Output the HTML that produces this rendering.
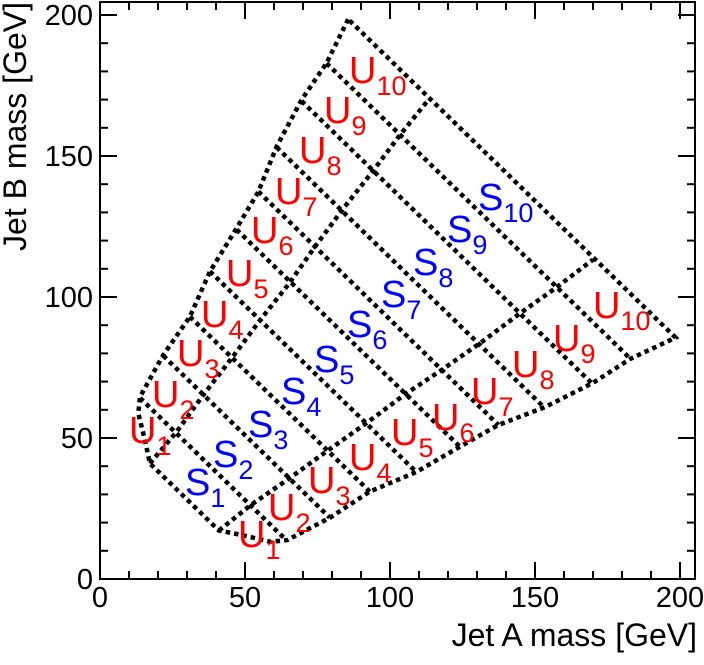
<!DOCTYPE html>
<html><head><meta charset="utf-8"><style>
html,body{margin:0;padding:0;background:#fff;}
svg{display:block;font-family:"Liberation Sans",Arial,sans-serif;}
</style></head><body>
<svg id="chart" width="704" height="665" viewBox="0 0 704 665" xmlns="http://www.w3.org/2000/svg">
<g id="ticks"></g>
<g id="grid" fill="none" stroke="#000" stroke-width="4.5" stroke-dasharray="4.5 4"></g>
<rect x="100" y="2" width="595" height="577" fill="none" stroke="#000" stroke-width="2"/>
<g id="xlabels" font-size="29" text-anchor="middle"></g>
<g id="ylabels" font-size="29" text-anchor="end"></g>
<text x="697" y="646" font-size="32" text-anchor="end">Jet A mass [GeV]</text>
<text transform="translate(26,2) rotate(-90)" font-size="32" text-anchor="end">Jet B mass [GeV]</text>
<g id="labels" font-size="38"></g>
</svg>
<script>
// region boundary data (GeV)
const sumEdges = [58, 78, 101, 124, 147, 171, 192, 214, 239, 261, 285];
const outerUpperX = [13.8, 21.8, 31, 37.9, 47.1, 54.6, 60.9, 69.5, 78.1, 85.6];
const outerUpperY = [64.6, 79.4, 93, 109, 124.4, 137.3, 153.3, 169.9, 182.9, 198.5];
const innerUpperX = [17.2, 26.4, 35.6, 45.4, 55.2, 65.3, 74.1, 83.9, 94.2, 103.4, 113.2];
const innerUpperY = [41, 52.2, 65.2, 78.3, 91.8, 104.9, 117.8, 131.4, 144.8, 157.4, 169.9];
const cornerCurveX = [13.2, 15.5];
const cornerCurveY = [58.8, 49.3];
const xTicks = [0, 50, 100, 150, 200];
const yTicks = [0, 50, 100, 150, 200];

const NS = "http://www.w3.org/2000/svg";
const X0 = 100, XS = 2.9, Y0 = 579, YS = 2.82;
const sx = v => X0 + v * XS;
const sy = v => Y0 - v * YS;

function mk(tag, attrs, parent) {
  const e = document.createElementNS(NS, tag);
  for (const k in attrs) e.setAttribute(k, attrs[k]);
  parent.appendChild(e);
  return e;
}
function pathFrom(xs, ys) {
  return xs.map((x, i) => (i ? "L" : "M") + sx(x).toFixed(1) + " " + sy(ys[i]).toFixed(1)).join(" ");
}

const grid = document.getElementById("grid");
const bx = [], by = [];
for (let i = outerUpperX.length - 1; i >= 0; i--) { bx.push(outerUpperX[i]); by.push(outerUpperY[i]); }
cornerCurveX.forEach((x, i) => { bx.push(x); by.push(cornerCurveY[i]); });
bx.push(innerUpperX[0]); by.push(innerUpperY[0]);
bx.push(innerUpperY[0]); by.push(innerUpperX[0]);
for (let i = cornerCurveX.length - 1; i >= 0; i--) { bx.push(cornerCurveY[i]); by.push(cornerCurveX[i]); }
for (let i = 0; i < outerUpperX.length; i++) { bx.push(outerUpperY[i]); by.push(outerUpperX[i]); }
bx.push(outerUpperX[outerUpperX.length - 1]); by.push(outerUpperY[outerUpperY.length - 1]);
const outer = mk("path", { d: pathFrom(bx, by) }, grid);



const iu = mk("path", { d: pathFrom(innerUpperX, innerUpperY) }, grid);


const il = mk("path", { d: pathFrom(innerUpperY, innerUpperX) }, grid);



for (let k = 1; k < sumEdges.length - 1; k++) {
  const s = sumEdges[k];
  const ux = outerUpperX[k - 1], uy = s - ux;
  const ln = mk("line", { x1: sx(ux), y1: sy(uy), x2: sx(uy), y2: sy(ux) }, grid);
  
  
}

const tg = document.getElementById("ticks");
for (let v = 0; v <= 200; v += 10) {
  const major = v % 50 === 0, L = major ? 17 : 8;
  const x = sx(v);
  mk("line", { x1: x, y1: 579, x2: x, y2: 579 - L, stroke: "#000", "stroke-width": 2 }, tg);
  mk("line", { x1: x, y1: 2, x2: x, y2: 2 + L, stroke: "#000", "stroke-width": 2 }, tg);
  const y = sy(v);
  mk("line", { x1: 100, y1: y, x2: 100 + L, y2: y, stroke: "#000", "stroke-width": 2 }, tg);
  mk("line", { x1: 695, y1: y, x2: 695 - L, y2: y, stroke: "#000", "stroke-width": 2 }, tg);
}
const xl = document.getElementById("xlabels");
xTicks.forEach(v => {
  const t = mk("text", { x: sx(v), y: 607 }, xl);
  t.textContent = v;
  
  
});
const yl = document.getElementById("ylabels");
yTicks.forEach(v => {
  const t = mk("text", { x: 93, y: sy(v) + 10 }, yl);
  t.textContent = v;
  
  
});

const labelLetters = ["U","U","U","U","U","U","U","U","U","U","S","S","S","S","S","S","S","S","S","S","U","U","U","U","U","U","U","U","U","U"];
const labelIdx = [1,2,3,4,5,6,7,8,9,10,1,2,3,4,5,6,7,8,9,10,1,2,3,4,5,6,7,8,9,10];
const labelPx = [129,152,177,201,226,251,275,299,324,349, 185,213,248,281,314,347,381,413,447,478, 238,268,308,349,391,432,471,512,553,593];
const labelPy = [443,407,366,327,286,243,204,163,123,83, 495,467,437,404,372,337,307,275,242,210, 547,520,493,470,445,430,404,377,351,318];
const lg = document.getElementById("labels");
labelLetters.forEach((L, i) => {
  const t = mk("text", { x: labelPx[i], y: labelPy[i], fill: L === "U" ? "#ff0000" : "#0000ff" }, lg);
  
  
  const a = document.createElementNS(NS, "tspan"); a.textContent = L; t.appendChild(a);
  const b = document.createElementNS(NS, "tspan");
  b.setAttribute("dy", "12"); b.setAttribute("font-size", "27");
  b.textContent = labelIdx[i]; t.appendChild(b);
});
</script>
</body></html>
